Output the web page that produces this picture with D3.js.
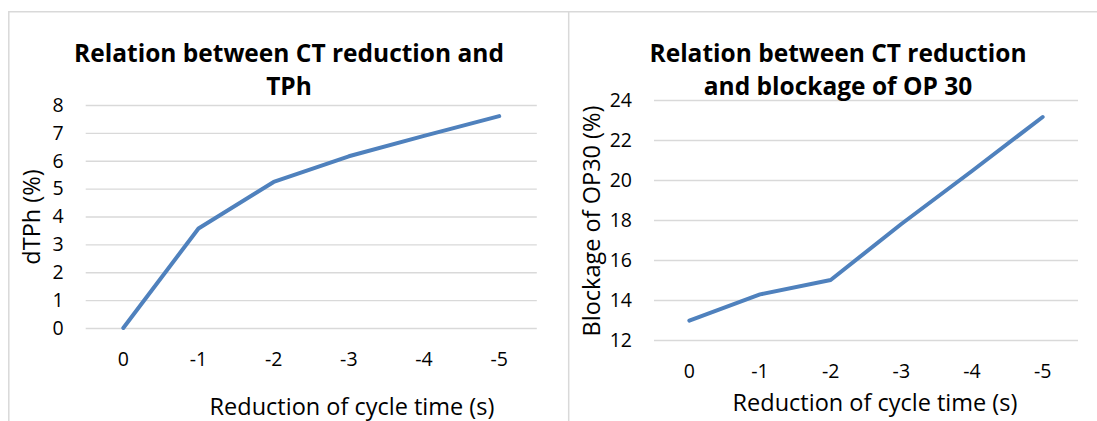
<!DOCTYPE html>
<html>
<head>
<meta charset="utf-8">
<script src="https://cdn.jsdelivr.net/npm/d3@7"></script>
<style>
  html, body { margin: 0; padding: 0; background: #ffffff; }
  svg { display: block; }
  text { font-family: "Open Sans", Lato, sans-serif; fill: #000000; }
</style>
</head>
<body>
<svg id="chart" width="1097" height="421"></svg>
<script>
// Cycle-time reduction steps (seconds) shared by both panels
const categories = ["0", "-1", "-2", "-3", "-4", "-5"];

// Panel 1: change in throughput per hour (%)
const tphValues = [0, 3.57, 5.24, 6.16, 6.89, 7.6];
const tphTicks = [0, 1, 2, 3, 4, 5, 6, 7, 8];

// Panel 2: blockage of OP30 (%)
const blockageValues = [12.97, 14.28, 15.0, 17.8, 20.45, 23.15];
const blockageTicks = [12, 14, 16, 18, 20, 22, 24];

const titles1 = ["Relation between CT reduction and", "TPh"];
const titles2 = ["Relation between CT reduction", "and blockage of OP 30"];
const xTitle = "Reduction of cycle time (s)";
const yTitle1 = "dTPh (%)";
const yTitle2 = "Blockage of OP30 (%)";

const svg = d3.select("#chart");
const gridColor = "#d9d9d9";
const lineColor = "#4f81bd";
const font = "'Open Sans', Lato, sans-serif";

// chart frames
svg.append("path")
  .attr("d", "M8.8,421 V11.8 H1097 M568.7,11.8 V421")
  .attr("fill", "none")
  .attr("stroke", gridColor)
  .attr("stroke-width", 1.5);

function panel(cfg) {
  const x = d3.scaleBand().domain(categories).range(cfg.xRange).padding(0);
  const y = d3.scaleLinear().domain(cfg.yDomain).range(cfg.yRange);
  const w = cfg.xRange[1] - cfg.xRange[0];
  const g = svg.append("g");

  // gridlines + y tick labels
  const yAxis = g.append("g")
    .attr("transform", `translate(${cfg.xRange[0]},0)`)
    .call(d3.axisLeft(y).tickValues(cfg.ticks).tickSize(-w).tickPadding(22).tickFormat(d3.format("d")));
  yAxis.select(".domain").remove();
  yAxis.selectAll(".tick line").attr("stroke", gridColor).attr("stroke-width", 1.3);
  yAxis.selectAll(".tick text")
    .attr("font-size", 19.5).attr("font-family", font).attr("fill", "#000");

  // x category labels
  const xAxis = g.append("g")
    .attr("transform", `translate(0,${cfg.yRange[0]})`)
    .call(d3.axisBottom(x).tickSize(0));
  xAxis.select(".domain").remove();
  xAxis.selectAll(".tick text")
    .attr("y", cfg.xLabelOffset).attr("dy", "0.35em")
    .attr("font-size", 19.5).attr("font-family", font).attr("fill", "#000");

  // series line
  const line = d3.line()
    .x((d, i) => x(categories[i]) + x.bandwidth() / 2)
    .y(d => y(d));
  g.append("path")
    .datum(cfg.values)
    .attr("d", line)
    .attr("fill", "none")
    .attr("stroke", lineColor)
    .attr("stroke-width", 4)
    .attr("stroke-linejoin", "round")
    .attr("stroke-linecap", "round");

  // chart title
  cfg.title.forEach((t, i) => {
    g.append("text")
      .attr("x", cfg.titleX)
      .attr("y", 61.7 + i * 33.3)
      .attr("text-anchor", "middle")
      .attr("font-size", 24.5)
      .attr("font-weight", "bold")
      .text(t);
  });

  // axis titles
  g.append("text")
    .attr("x", cfg.xTitlePos[0]).attr("y", cfg.xTitlePos[1])
    .attr("dy", "0.35em")
    .attr("text-anchor", "middle")
    .attr("font-size", 23.5)
    .text(xTitle);
  g.append("text")
    .attr("transform", `translate(${cfg.yTitlePos[0]},${cfg.yTitlePos[1]}) rotate(-90)`)
    .attr("dy", "0.35em")
    .attr("text-anchor", "middle")
    .attr("font-size", 23.5)
    .text(cfg.yTitle);
}

panel({
  xRange: [85.7, 536.8],
  yDomain: [0, 8],
  yRange: [328, 105],
  ticks: tphTicks,
  values: tphValues,
  xLabelOffset: 31,
  title: titles1,
  titleX: 289,
  xTitlePos: [352, 407],
  yTitlePos: [31.7, 217],
  yTitle: yTitle1
});

panel({
  xRange: [654, 1078],
  yDomain: [12, 24],
  yRange: [340, 100],
  ticks: blockageTicks,
  values: blockageValues,
  xLabelOffset: 31,
  title: titles2,
  titleX: 838,
  xTitlePos: [875, 403],
  yTitlePos: [591.6, 221],
  yTitle: yTitle2
});
</script>
</body>
</html>
